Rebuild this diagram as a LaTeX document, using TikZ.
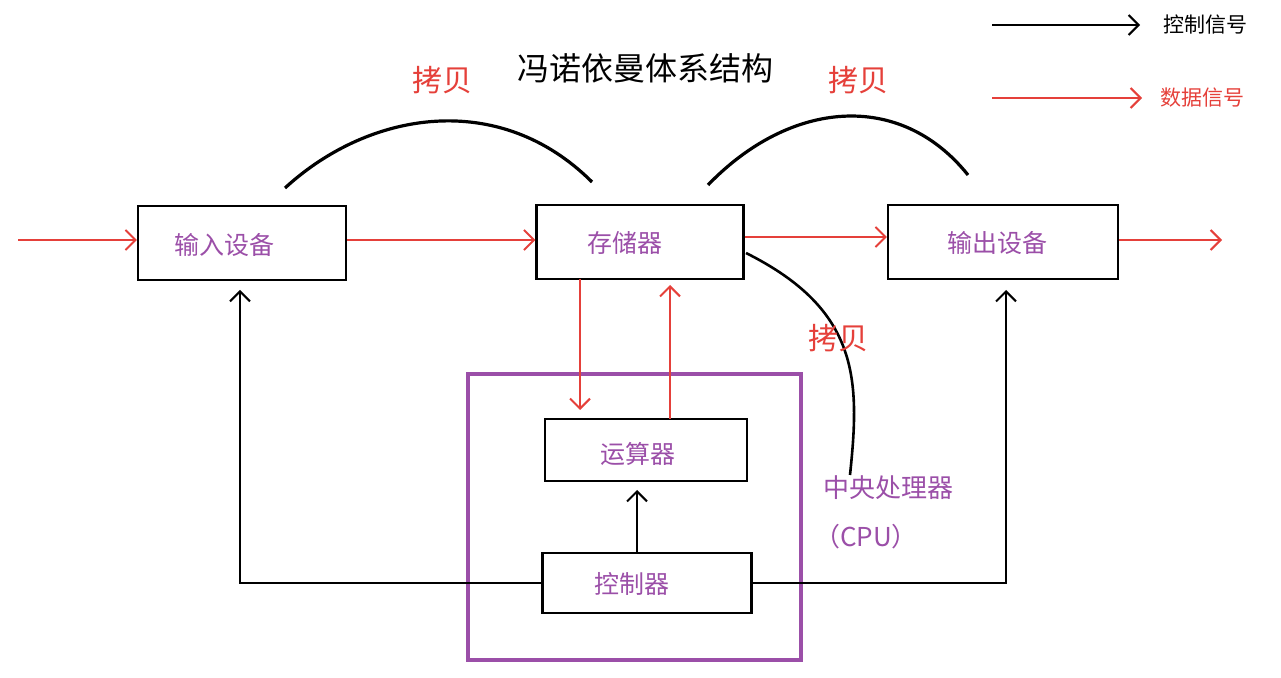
\documentclass[tikz,border=0pt]{standalone}
\usepackage{fontspec}
\setmainfont{Noto Sans CJK SC}
\usetikzlibrary{arrows.meta}
\definecolor{pur}{HTML}{9B4FA8}
\definecolor{rd}{HTML}{E5403A}
\begin{document}
\begin{tikzpicture}[x=0.5pt,y=-0.5pt,line width=1pt,
  box/.style={draw,line width=1.1pt,minimum width=#1*0.5pt,minimum height=37pt,inner sep=0pt},
  bl/.style={text=pur,font=\fontsize{12.5}{12.5}\selectfont},
  ar/.style={line width=1pt,-{Straight Barb[length=5pt,width=10pt]}},
  red/.style={ar,draw=rd},
  lab/.style={text=rd,font=\fontsize{15}{15}\selectfont}]
\useasboundingbox (0,0) rectangle (1281,678);
\node[box=208] (in) at (242,243) {};
\node[bl] at (224,245) {输入设备};
\node[box=207] (mem) at (640,242) {};
\node[bl] at (625,243) {存储器};
\node[box=230] (out) at (1003,242) {};
\node[bl] at (997,243) {输出设备};
\node[box=202,minimum height=31pt] (alu) at (646,450) {};
\node[bl] at (638,454) {运算器};
\node[box=209,minimum height=30pt] (ctl) at (647,583) {};
\node[bl] at (632,584) {控制器};
\draw[pur,line width=2pt] (468,374) rectangle (801,660);
\coordinate (s0) at (18,240); \coordinate (e0) at (1222,240);
\draw[red] (s0) -- (in.west |- s0);
\draw[red] (in.east |- 0,240) -- (mem.west |- 0,240);
\draw[red] (mem.east |- 0,237) -- (out.west |- 0,237);
\draw[red] (out.east |- e0) -- (e0);
\draw[red] (580,279) -- (580,410);
\draw[red] (670,419) -- (670,285);
\draw[ar] (ctl.north -| 637,0) -- (637,490);
\draw[ar] (ctl.west) -| (240,290);
\draw[ar] (ctl.east) -| (1006,290);
\draw[line width=1.6pt] (285,188) .. controls (370,110) and (500,90) .. (592,182);
\draw[line width=1.6pt] (708,185) .. controls (790,100) and (900,90) .. (968,175);
\draw[line width=1.3pt] (746,253) .. controls (860,310) and (860,380) .. (850,475);
\node[lab] at (442,80) {拷贝};
\node[lab] at (858,80) {拷贝};
\node[lab] at (838,338) {拷贝};
\node[font=\fontsize{16}{16}\selectfont] at (645,68) {冯诺依曼体系结构};
\node[text=pur,font=\fontsize{13}{13}\selectfont] at (888,488) {中央处理器};
\node[text=pur,font=\fontsize{13}{13}\selectfont] at (866,537) {（CPU）};
\coordinate (l1) at (992,25); \coordinate (l2) at (1140,25);
\draw[ar] (l1) -- (l2);
\node[font=\fontsize{10.5}{10.5}\selectfont] at (1205,25) {控制信号};
\coordinate (l3) at (992,98); \coordinate (l4) at (1142,98);
\draw[red] (l3) -- (l4);
\node[text=rd,font=\fontsize{10.5}{10.5}\selectfont] at (1202,98) {数据信号};
\end{tikzpicture}
\end{document}
